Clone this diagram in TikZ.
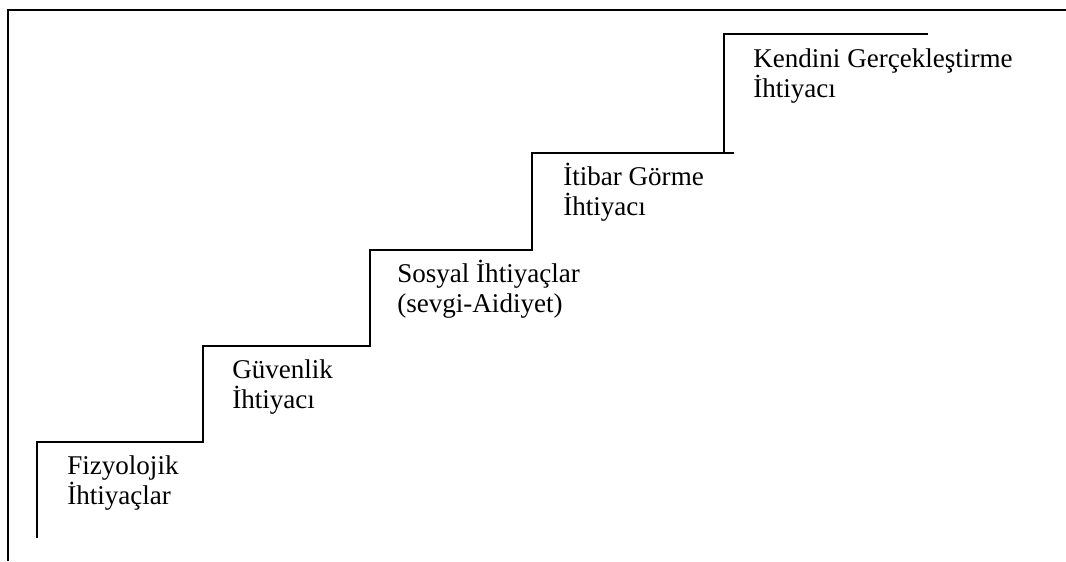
\documentclass[tikz,border=0pt]{standalone}
\usepackage{fontspec}
\setmainfont{Liberation Serif}
\usetikzlibrary{positioning}

\begin{document}
\begin{tikzpicture}[x=0.75pt,y=-0.75pt,
  frame/.style={line width=1.5pt},
  stair/.style={line width=1.2pt},
  need/.style={anchor=base west,align=left,inner sep=0pt,
    font=\fontsize{20.3}{22}\selectfont}]
\useasboundingbox (0,0) rectangle (1066,561);
\draw[frame] (8,561) -- (8,10) -- (1066,10);

	\coordinate (A0) at (37,538);
	\coordinate (A) at (37,442);
	\coordinate (B) at (203,442);
	\coordinate (C) at (203,346);
	\coordinate (D) at (370,346);
	\coordinate (E) at (370,250);
	\coordinate (F) at (532,250);
	\coordinate (G) at (532,153);
	\coordinate (H) at (734,153);
	\coordinate (I) at (724,153);
	\coordinate (J) at (724,34);
	\coordinate (K) at (928,34);

	\draw[stair] (A0) -- (A) -- (B) -- (C) -- (D) -- (E) -- (F) -- (G) -- (H);
	\draw[stair] (I) -- (J) -- (K);

	% base anchor sits on the second line
	\node[need] (fizyolojik) at ([shift={(30,62)}]A) {Fizyolojik\\İhtiyaçlar};
	\node[need] (guvenlik) at ([shift={(29,62)}]C) {Güvenlik\\İhtiyacı};
	\node[need] (sosyal) at ([shift={(27,62)}]E) {Sosyal İhtiyaçlar\\(sevgi-Aidiyet)};
	\node[need] (itibar) at ([shift={(31,62)}]G) {İtibar Görme\\İhtiyacı};
	\node[need] (kendini) at ([shift={(29,63)}]J) {Kendini Gerçekleştirme\\İhtiyacı};
\end{tikzpicture}
\end{document}
